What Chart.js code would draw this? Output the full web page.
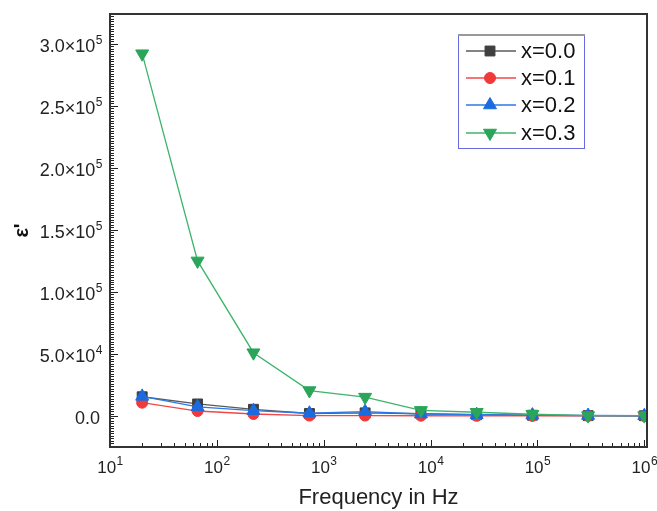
<!DOCTYPE html>
<html>
<head>
<meta charset="utf-8">
<script src="https://cdn.jsdelivr.net/npm/chart.js@4"></script>
<style>
  html, body { margin: 0; padding: 0; background: #fff; }
  #wrap { width: 657px; height: 511px; position: relative; }
</style>
</head>
<body>
<div id="wrap"><canvas id="chart"></canvas></div>
<script>
// frequencies (Hz) and epsilon' values
const freqs = [20, 66, 220, 735, 2440, 8120, 27000, 89700, 298000, 1000000];
const eps00 = [15500, 9700, 5400, 2000, 2500, 1800, 1000, 600, 300, 200];
const eps01 = [10700, 4000, 1600, 300, 300, 200, 100, 50, 30, 20];
const eps02 = [15800, 7300, 4300, 2200, 3500, 1600, 1000, 700, 400, 200];
const eps03 = [292000, 125000, 51000, 20500, 15200, 4500, 3000, 1400, 300, 300];
const seriesLabels = ['x=0.0', 'x=0.1', 'x=0.2', 'x=0.3'];
const xTickValues = [10, 100, 1000, 10000, 100000, 1000000];
const yTickValues = [0, 50000, 100000, 150000, 200000, 250000, 300000];

const FONT = "'Liberation Sans', Arial, sans-serif";

function pts(vals) {
  return freqs.map((f, i) => ({x: f, y: vals[i]}));
}

function ds(label, vals, color, line, style, rot, radius, order) {
  return {
    label: label,
    data: pts(vals),
    borderColor: line,
    backgroundColor: color,
    pointBackgroundColor: color,
    pointBorderColor: color,
    borderWidth: 1.3,
    pointStyle: style,
    pointRotation: rot,
    pointRadius: radius,
    pointBorderWidth: 1,
    order: order,
  };
}

const datasets = [
  ds(seriesLabels[0], eps00, '#3f3f3f', '#5a5a5a', 'rect', 0, 7, 3),
  ds(seriesLabels[1], eps01, '#f03a3a', '#f04848', 'circle', 0, 5.5, 2),
  ds(seriesLabels[2], eps02, '#1a6be0', '#2a7ae6', 'triangle', 0, 7.5, 1),
  ds(seriesLabels[3], eps03, '#2aa55a', '#3cb46a', 'triangle', 180, 7.5, 0),
];

// "m×10^e" style label: base text plus a raised smaller exponent
function powLabel(ctx, base, exp, x, y, align, size) {
  ctx.font = size + 'px ' + FONT;
  const wb = ctx.measureText(base).width;
  ctx.font = '12px ' + FONT;
  const we = ctx.measureText(exp).width;
  const left = align === 'right' ? x - wb - we : x - (wb + we) / 2;
  ctx.textAlign = 'left';
  ctx.textBaseline = 'alphabetic';
  ctx.font = size + 'px ' + FONT;
  ctx.fillText(base, left, y);
  ctx.font = '12px ' + FONT;
  ctx.fillText(exp, left + wb + 0.5, y - 8);
}

// inward ticks, frame, tick labels and the boxed legend
const decor = {
  id: 'decor',
  afterDatasetsDraw(chart) {
    const ctx = chart.ctx;
    const a = chart.chartArea;
    const xs = chart.scales.x, ys = chart.scales.y;
    ctx.save();
    ctx.strokeStyle = '#222';
    ctx.lineWidth = 1;
    ctx.beginPath();
    for (let k = 1; k <= 6; k++) {
      for (let m = 1; m <= 9; m++) {
        const v = m * Math.pow(10, k);
        if (v > 1e6) break;
        const px = Math.round(xs.getPixelForValue(v)) + 0.5;
        const len = m === 1 ? 7 : 4;
        ctx.moveTo(px, a.bottom);
        ctx.lineTo(px, a.bottom - len);
      }
    }
    for (let v = -24000; v <= 324000; v += 2000) {
      const py = Math.round(ys.getPixelForValue(v)) + 0.5;
      const len = v % 50000 === 0 ? 8 : 4;
      ctx.moveTo(a.left, py);
      ctx.lineTo(a.left + len, py);
    }
    ctx.stroke();
    ctx.lineWidth = 2;
    ctx.strokeStyle = '#333';
    ctx.strokeRect(a.left, a.top, a.right - a.left, a.bottom - a.top);

    // tick labels
    ctx.fillStyle = '#222';
    xTickValues.forEach(v => {
      const e = Math.round(Math.log10(v));
      powLabel(ctx, '10', String(e), xs.getPixelForValue(v), a.bottom + 26, 'center', 17);
    });
    yTickValues.forEach(v => {
      const py = ys.getPixelForValue(v);
      if (v === 0) {
        ctx.font = '18px ' + FONT;
        ctx.textAlign = 'right';
        ctx.textBaseline = 'alphabetic';
        ctx.fillText('0.0', 100, py + 8);
        return;
      }
      const e = Math.floor(Math.log10(v));
      powLabel(ctx, (v / Math.pow(10, e)).toFixed(1) + '×10', String(e), 102, py + 8, 'right', 18);
    });

    // legend box
    const bx = 458, by = 35, bw = 126, bh = 113;
    ctx.fillStyle = '#fff';
    ctx.fillRect(bx, by, bw, bh);
    ctx.lineWidth = 1;
    ctx.strokeStyle = '#6a6ae0';
    ctx.strokeRect(bx + 0.5, by + 0.5, bw, bh);
    ctx.strokeStyle = '#999';
    ctx.lineWidth = 2;
    ctx.beginPath();
    ctx.moveTo(bx, by);
    ctx.lineTo(bx + bw + 1, by);
    ctx.stroke();
    ctx.font = '22px ' + FONT;
    ctx.textAlign = 'left';
    ctx.textBaseline = 'middle';
    const rows = [51, 78, 105, 133];
    datasets.forEach((d, i) => {
      const y = rows[i];
      ctx.strokeStyle = d.borderColor;
      ctx.lineWidth = 1.3;
      ctx.beginPath();
      ctx.moveTo(466, y);
      ctx.lineTo(516, y);
      ctx.stroke();
      ctx.fillStyle = d.pointBackgroundColor;
      ctx.strokeStyle = d.pointBorderColor;
      ctx.lineWidth = 1;
      Chart.helpers.drawPoint(ctx, {pointStyle: d.pointStyle, rotation: d.pointRotation, radius: d.pointRadius, borderWidth: 1}, 490, y);
      ctx.fillStyle = '#111';
      ctx.fillText(d.label, 521, y + 1);
    });
    ctx.restore();
  }
};

new Chart(document.getElementById('chart'), {
  type: 'line',
  data: { datasets: datasets },
  options: {
    responsive: true,
    maintainAspectRatio: false,
    animation: false,
    layout: { padding: { left: 0, top: 14, right: 10, bottom: 0 } },
    plugins: { legend: { display: false }, tooltip: { enabled: false } },
    scales: {
      x: {
        type: 'logarithmic',
        min: 10,
        max: 1060000,
        grid: { display: false },
        border: { display: false },
        afterBuildTicks: s => { s.ticks = xTickValues.map(v => ({value: v})); },
        afterFit: s => { s.height = 64; },
        ticks: { display: false },
        title: {
          display: true,
          text: 'Frequency in Hz',
          color: '#222',
          font: { family: FONT, size: 22 },
          padding: { top: 4, bottom: 0 }
        }
      },
      y: {
        min: -25000,
        max: 324000,
        grid: { display: false },
        border: { display: false },
        afterBuildTicks: s => { s.ticks = yTickValues.map(v => ({value: v})); },
        afterFit: s => { s.width = 110; },
        ticks: { display: false },
        title: {
          display: true,
          text: "ε'",
          color: '#111',
          font: { family: FONT, size: 20, weight: 'bold' },
          padding: { top: 10, bottom: 0 }
        }
      }
    }
  },
  plugins: [decor]
});
</script>
</body>
</html>
